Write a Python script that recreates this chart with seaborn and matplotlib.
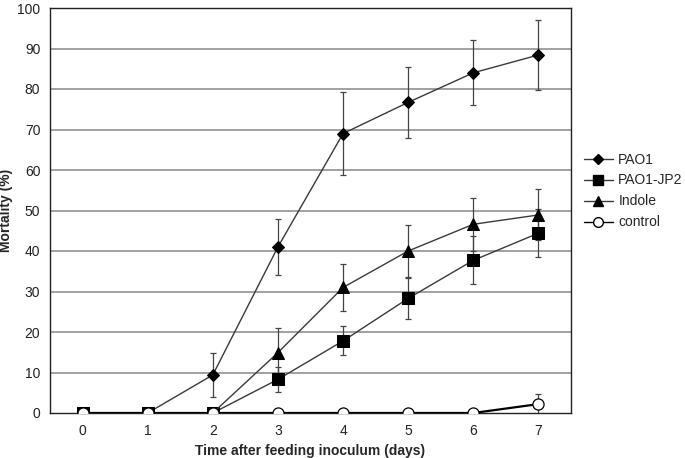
import numpy as np
import pandas as pd
import matplotlib
matplotlib.use("Agg")
import matplotlib.pyplot as plt
import seaborn as sns
from matplotlib.lines import Line2D

days = [0, 1, 2, 3, 4, 5, 6, 7]
series_names = ["PAO1", "PAO1-JP2", "Indole", "control"]
pao1 = [0, 0, 9.4, 41.0, 69.0, 76.7, 84.0, 88.4]
pao1_err = [0, 0, 5.4, 7.0, 10.3, 8.7, 8.0, 8.6]
jp2 = [0, 0, 0, 8.3, 17.8, 28.3, 37.7, 44.4]
jp2_err = [0, 0, 0, 3.1, 3.6, 5.0, 5.9, 6.0]
indole = [0, 0, 0, 14.9, 31.0, 40.0, 46.6, 48.9]
indole_err = [0, 0, 0, 6.0, 5.7, 6.3, 6.5, 6.3]
control = [0, 0, 0, 0, 0, 0, 0, 2.2]
control_err = [0, 0, 0, 0, 0, 0, 0, 2.5]

values = [pao1, jp2, indole, control]
errors = [pao1_err, jp2_err, indole_err, control_err]

sns.set_theme(style="white")
plt.rcParams['font.family'] = ['Liberation Sans', 'DejaVu Sans']

rows = []
for name, vals in zip(series_names, values):
    for d, v in zip(days, vals):
        rows.append({"day": d, "mortality": v, "series": name})
df = pd.DataFrame(rows)

fig = plt.figure(figsize=(6.85, 4.58), dpi=100)
ax = fig.add_axes([50/685, 1 - 413/458, (571-50)/685, (413-8)/458])

markers = {"PAO1": "D", "PAO1-JP2": "s", "Indole": "^", "control": "o"}
msizes = {"PAO1": 6, "PAO1-JP2": 8, "Indole": 8, "control": 8}
line_col = "#3a3a3a"

# grid
for yv in range(10, 101, 10):
    ax.axhline(yv, color="#9a9a9a", lw=1.3, zorder=0)

# error bars
for name, vals, errs in zip(series_names, values, errors):
    for d, v, e in zip(days, vals, errs):
        if e > 0:
            ax.errorbar(d, v, yerr=e, fmt="none", ecolor="#444444", elinewidth=0.9,
                        capsize=2.5, capthick=0.9, zorder=2)

sns.lineplot(data=df, x="day", y="mortality", hue="series", style="series",
             palette={n: line_col for n in series_names}, dashes=False,
             markers=markers, ax=ax, legend=False, lw=1.0, zorder=3,
             markersize=8, markeredgecolor="black", errorbar=None)

for line, name in zip([l for l in ax.get_lines() if len(l.get_xdata()) == len(days)][-4:], series_names):
    line.set_markersize(msizes[name])
    line.set_markeredgecolor("black")
    if name == "control":
        line.set_markerfacecolor("white")
        line.set_markeredgewidth(0.9)
        line.set_color("black")
        line.set_linewidth(1.6)
    else:
        line.set_markerfacecolor("black")

ax.set_xlim(-0.5, 7.5)
ax.set_ylim(0, 100)
ax.set_yticks(range(0, 101, 10))
ax.set_xticks(days)
ax.set_xticks(np.arange(-0.5, 7.6, 1), minor=True)
ax.tick_params(axis="x", which="major", length=0, labelsize=10, pad=8)
ax.tick_params(axis="x", which="minor", length=4, width=0.8, direction="out", color="#333333")
ax.tick_params(axis="y", which="major", length=4, width=0.8, direction="out", labelsize=10, color="#333333", pad=3)
ax.tick_params(axis="both", colors="#222222")
for s in ax.spines.values():
    s.set_color("#222222")
    s.set_linewidth(1.0)

ax.set_xlabel("Time after feeding inoculum (days)", fontsize=10, fontweight="bold", labelpad=4)
ax.set_ylabel("Mortality (%)", fontsize=10, fontweight="bold", labelpad=3)

handles = []
for name in series_names:
    handles.append(Line2D([0], [0], color=line_col if name != "control" else "black",
                          lw=1.0, marker=markers[name], markersize=msizes[name] - 1,
                          markerfacecolor="white" if name == "control" else "black",
                          markeredgecolor="black", label=name))
fig.legend(handles=handles, loc="upper left", bbox_to_anchor=(578/685, 1 - 147/458),
           frameon=False, fontsize=10, handlelength=2.1, handletextpad=0.4,
           labelspacing=0.5, borderaxespad=0)

fig.savefig("out.png", dpi=100)
